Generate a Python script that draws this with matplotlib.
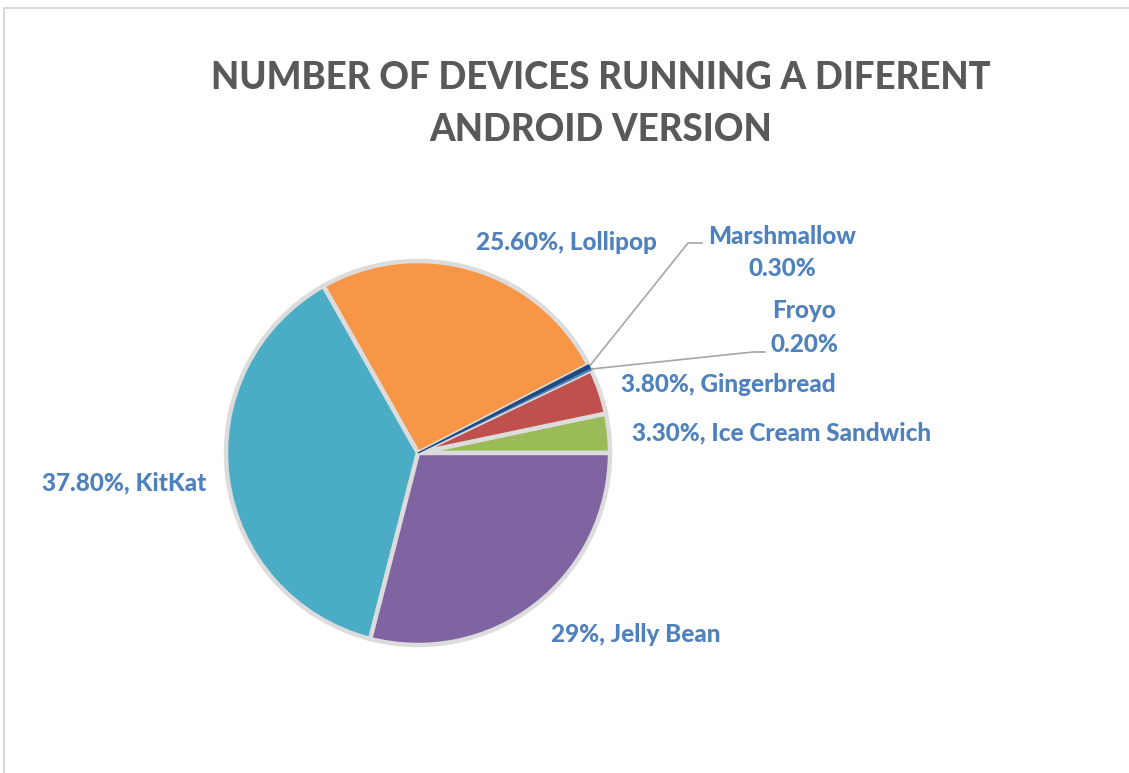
import matplotlib
matplotlib.use("Agg")
import matplotlib.pyplot as plt
import numpy as np

# data (share of devices, %)
versions = ["Ice Cream Sandwich", "Gingerbread", "Froyo", "Marshmallow",
            "Lollipop", "KitKat", "Jelly Bean"]
shares = [3.3, 3.8, 0.2, 0.3, 25.6, 37.8, 29.0]
pct_labels = ["3.30%", "3.80%", "0.20%", "0.30%", "25.60%", "37.80%", "29%"]
colors = ["#9BBB59", "#C0504D", "#4F81BD", "#1F497D",
          "#F79646", "#4BACC6", "#8064A2"]

W, H = 1129, 773
fig = plt.figure(figsize=(W / 100, H / 100), dpi=100)
ax = fig.add_axes([0, 0, 1, 1])
ax.set_xlim(0, W)
ax.set_ylim(H, 0)
ax.axis("off")

# frame of the chart area
ax.plot([4, 4, W], [H, 8, 8], color="#D9D9D9", lw=1.5)

cx, cy, r = 418, 453, 192
# y axis is flipped, so draw clockwise on screen via negative angles
wedges, _ = ax.pie(shares, colors=colors, startangle=0, counterclock=False,
                   center=(cx, cy), radius=r,
                   wedgeprops=dict(edgecolor="#DCDCDC", linewidth=3.2))
ax.set_xlim(0, W)
ax.set_ylim(H, 0)
ax.set_aspect("equal")

# keep the tiny slivers visible above the grey separators
for name, w in zip(versions, wedges):
    if name in ("Froyo", "Marshmallow"):
        w.set_edgecolor(w.get_facecolor())
        w.set_linewidth(0.8)
        w.set_zorder(5)

font = "Lato"
lab_col = "#4F81BD"
fs = 17.5

ax.text(601, 78, "NUMBER OF DEVICES RUNNING A DIFERENT", ha="center", va="center",
        fontsize=26.4, fontweight=900, color="#595959", family=font)
ax.text(601, 130, "ANDROID VERSION", ha="center", va="center",
        fontsize=26.4, fontweight=900, color="#595959", family=font)

# label placements (pixel positions of label centres)
pos = {
    "Ice Cream Sandwich": (782, 433),
    "Gingerbread": (728, 384),
    "Lollipop": (566, 243),
    "KitKat": (124, 483),
    "Jelly Bean": (636, 634),
}
for name, p, w in zip(versions, pct_labels, wedges):
    if name in pos:
        x, y = pos[name]
        ax.text(x, y, f"{p}, {name}", ha="center", va="center", fontsize=fs,
                fontweight=900, color=lab_col, family=font)

# small slices with leader lines
small = {"Marshmallow": ((782, 236), (688, 243), (702, 243)),
         "Froyo": ((804, 311), (753, 352), (765, 352))}
for name, p, w in zip(versions, pct_labels, wedges):
    if name in small:
        (tx, ty), (kx, ky), (ex, ey) = small[name]
        ang = np.deg2rad((w.theta1 + w.theta2) / 2)
        sx = cx + r * np.cos(ang)
        sy = cy + r * np.sin(ang)
        ax.plot([sx, kx, ex], [sy, ky, ey], color="#A6A6A6", lw=1.2)
        ax.text(tx, ty, name, ha="center", va="center", fontsize=fs,
                fontweight=900, color=lab_col, family=font)
        ax.text(tx, ty + 33, p, ha="center", va="center", fontsize=fs,
                fontweight=900, color=lab_col, family=font)

fig.savefig("out.png", dpi=100, facecolor="white")
